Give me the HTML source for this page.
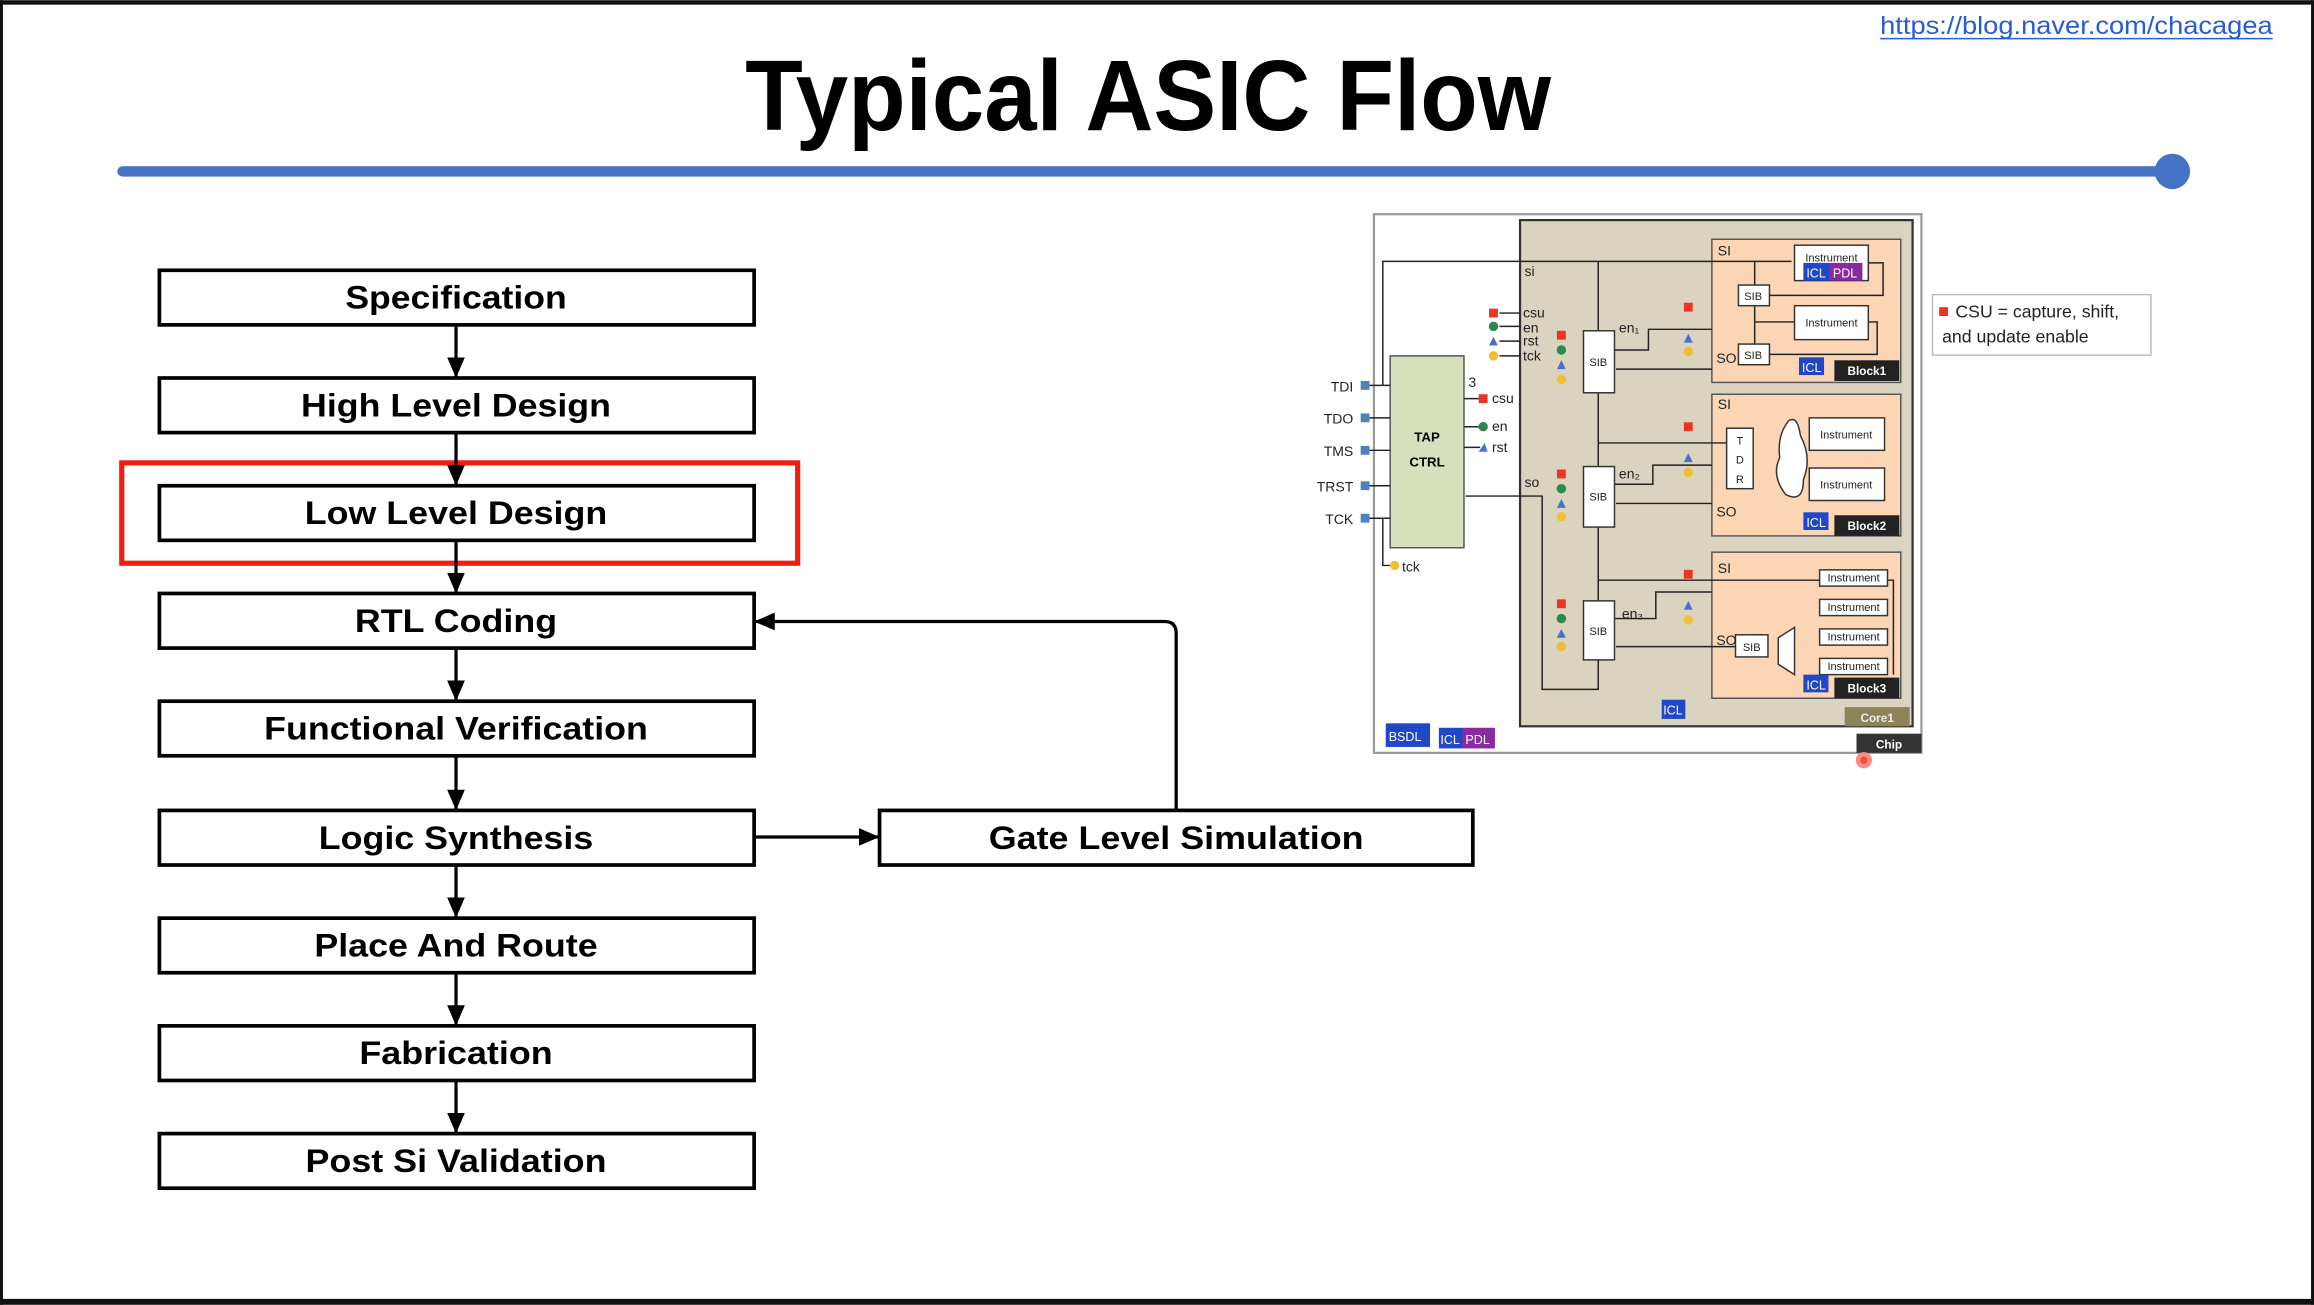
<!DOCTYPE html>
<html><head><meta charset="utf-8"><style>
html,body{margin:0;padding:0;background:#fff;}
svg{display:block;}
text{font-family:"Liberation Sans",sans-serif;}
</style></head><body>
<svg width="2314" height="1305" viewBox="0 0 1568 884" xmlns="http://www.w3.org/2000/svg">
<defs>
<marker id="ah" markerWidth="14" markerHeight="12" refX="13" refY="6" orient="auto" markerUnits="userSpaceOnUse">
<path d="M0,0 L14,6 L0,12 z" fill="#000"/></marker>
</defs>
<rect x="0" y="0" width="1568" height="884" fill="#fff"/>
<rect x="0" y="0" width="1568" height="3" fill="#111"/>
<rect x="0" y="880" width="1568" height="4" fill="#111"/>
<rect x="0" y="0" width="2" height="884" fill="#111"/>
<rect x="1566" y="0" width="2" height="884" fill="#111"/>

<text x="1407" y="23" font-size="17" fill="#2a5bd7" text-anchor="middle" textLength="266" lengthAdjust="spacingAndGlyphs">https://blog.naver.com/chacagea</text>
<line x1="1274" y1="26" x2="1540" y2="26" stroke="#2a5bd7" stroke-width="1"/>
<text x="778" y="88" font-size="68" font-weight="bold" text-anchor="middle" textLength="546" lengthAdjust="spacingAndGlyphs" fill="#000">Typical ASIC Flow</text>
<line x1="83" y1="116" x2="1470" y2="116" stroke="#4472c4" stroke-width="7" stroke-linecap="round"/>
<ellipse cx="1472" cy="116" rx="12" ry="12" fill="#4472c4"/>

<g stroke="#000" stroke-width="2.5" fill="#fff">
<rect x="108" y="183" width="403" height="37"/>
<rect x="108" y="256" width="403" height="37"/>
<rect x="108" y="329" width="403" height="37"/>
<rect x="108" y="402" width="403" height="37"/>
<rect x="108" y="475" width="403" height="37"/>
<rect x="108" y="549" width="403" height="37"/>
<rect x="108" y="622" width="403" height="37"/>
<rect x="108" y="695" width="403" height="37"/>
<rect x="108" y="768" width="403" height="37"/>
<rect x="596" y="549" width="402" height="37"/>
</g>
<rect x="82.5" y="313.5" width="458" height="68" fill="none" stroke="#f21d0e" stroke-width="3.5"/>
<g stroke="#000" stroke-width="2.2" fill="none" marker-end="url(#ah)">
<line x1="309" y1="220" x2="309" y2="255"/>
<line x1="309" y1="293" x2="309" y2="328"/>
<line x1="309" y1="366" x2="309" y2="401"/>
<line x1="309" y1="439" x2="309" y2="474"/>
<line x1="309" y1="512" x2="309" y2="548"/>
<line x1="309" y1="586" x2="309" y2="621"/>
<line x1="309" y1="659" x2="309" y2="694"/>
<line x1="309" y1="732" x2="309" y2="767"/>
<line x1="511" y1="567" x2="595" y2="567"/>
<path d="M797,549 L797,429 Q797,421 789,421 L512,421"/>
</g>
<g font-size="22" font-weight="bold" text-anchor="middle" fill="#000" lengthAdjust="spacingAndGlyphs">
<text x="309" y="209" textLength="150" lengthAdjust="spacingAndGlyphs">Specification</text>
<text x="309" y="282" textLength="210" lengthAdjust="spacingAndGlyphs">High Level Design</text>
<text x="309" y="355" textLength="205" lengthAdjust="spacingAndGlyphs">Low Level Design</text>
<text x="309" y="428" textLength="137" lengthAdjust="spacingAndGlyphs">RTL Coding</text>
<text x="309" y="501" textLength="260" lengthAdjust="spacingAndGlyphs">Functional Verification</text>
<text x="309" y="575" textLength="186" lengthAdjust="spacingAndGlyphs">Logic Synthesis</text>
<text x="309" y="648" textLength="192" lengthAdjust="spacingAndGlyphs">Place And Route</text>
<text x="309" y="721" textLength="131" lengthAdjust="spacingAndGlyphs">Fabrication</text>
<text x="309" y="794" textLength="204" lengthAdjust="spacingAndGlyphs">Post Si Validation</text>
<text x="797" y="575" textLength="254" lengthAdjust="spacingAndGlyphs">Gate Level Simulation</text>
</g>

<!-- IJTAG diagram -->
<rect x="931" y="145" width="371" height="365" fill="#fff" stroke="#999" stroke-width="1.5"/>
<rect x="1030" y="149" width="266" height="343" fill="#d9d3bf" stroke="#333" stroke-width="1.5"/>
<g stroke="#555" stroke-width="1" fill="#fcd5b5">
<rect x="1160" y="162" width="128" height="97"/>
<rect x="1160" y="267" width="128" height="96"/>
<rect x="1160" y="374" width="128" height="99"/>
</g>
<rect x="942" y="241" width="50" height="130" fill="#d7e0bd" stroke="#555" stroke-width="1"/>
<text x="967" y="299" font-size="9" font-weight="bold" text-anchor="middle">TAP</text>
<text x="967" y="316" font-size="9" font-weight="bold" text-anchor="middle">CTRL</text>
<g font-size="9.5" fill="#222" text-anchor="end">
<text x="917" y="265">TDI</text><text x="917" y="287">TDO</text><text x="917" y="309">TMS</text><text x="917" y="333">TRST</text><text x="917" y="355">TCK</text>
</g>
<g fill="#4f81bd"><rect x="922" y="258" width="6" height="6"/><rect x="922" y="280" width="6" height="6"/><rect x="922" y="302" width="6" height="6"/><rect x="922" y="326" width="6" height="6"/><rect x="922" y="348" width="6" height="6"/></g>
<g stroke="#222" stroke-width="1" fill="none">
<line x1="928" y1="261" x2="942" y2="261"/><line x1="928" y1="283" x2="942" y2="283"/><line x1="928" y1="305" x2="942" y2="305"/><line x1="928" y1="329" x2="942" y2="329"/><line x1="928" y1="351" x2="942" y2="351"/>
<polyline points="937,261 937,177 1214,177"/>
<polyline points="937,351 937,383 942,383"/>
<line x1="1083" y1="177" x2="1083" y2="224"/>
<line x1="1083" y1="266" x2="1083" y2="316"/>
<line x1="1083" y1="357" x2="1083" y2="407"/>
<polyline points="1083,300 1178,300 1178,290"/>
<polyline points="1083,393 1283,393 1283,457"/>
<polyline points="1083,447 1083,467 1045,467 1045,336 993,336"/>
<line x1="1160" y1="250" x2="1095" y2="250"/>
<line x1="1160" y1="341" x2="1095" y2="341"/>
<line x1="1176" y1="438" x2="1095" y2="438"/>
<polyline points="1094,237 1117,237 1117,223 1160,223"/>
<polyline points="1094,328 1120,328 1120,315 1160,315"/>
<polyline points="1094,419 1122,419 1122,401 1160,401"/>
<line x1="992" y1="270" x2="1003" y2="270"/><line x1="992" y1="289" x2="1003" y2="289"/><line x1="992" y1="303" x2="1003" y2="303"/>
<line x1="1016" y1="212" x2="1030" y2="212"/><line x1="1016" y1="221" x2="1030" y2="221"/><line x1="1016" y1="231" x2="1030" y2="231"/><line x1="1016" y1="241" x2="1030" y2="241"/>
<line x1="1189" y1="177" x2="1189" y2="193"/><line x1="1189" y1="207" x2="1189" y2="233"/>
<polyline points="1266,178 1276,178 1276,200 1199,200"/>
<polyline points="1266,218 1272,218 1272,240 1199,240"/>
<line x1="1189" y1="218" x2="1216" y2="218"/>
</g>
<g fill="#fff" stroke="#333" stroke-width="1">
<rect x="1073" y="224" width="21" height="42"/><rect x="1073" y="316" width="21" height="41"/><rect x="1073" y="407" width="21" height="40"/>
<rect x="1216" y="166" width="50" height="24"/><rect x="1178" y="193" width="21" height="14"/><rect x="1216" y="207" width="50" height="23"/><rect x="1178" y="233" width="21" height="14"/>
<rect x="1170" y="290" width="18" height="41"/><rect x="1226" y="283" width="51" height="22"/><rect x="1226" y="317" width="51" height="22"/>
<path d="M1212,285 q-8,10 -6,25 q-6,12 4,25 q12,6 12,-10 q6,-15 -2,-30 q-2,-14 -8,-10z"/>
<rect x="1233" y="386" width="46" height="11"/><rect x="1233" y="406" width="46" height="11"/><rect x="1233" y="426" width="46" height="11"/><rect x="1233" y="446" width="46" height="11"/>
<rect x="1176" y="430" width="22" height="15"/>
<path d="M1205,432 L1216,425 L1216,457 L1205,450 z"/>
</g>
<g font-size="7.5" fill="#222" text-anchor="middle">
<text x="1083" y="248">SIB</text><text x="1083" y="339">SIB</text><text x="1083" y="430">SIB</text>
<text x="1188" y="203">SIB</text><text x="1188" y="243">SIB</text><text x="1187" y="441">SIB</text>
<text x="1241" y="177">Instrument</text><text x="1241" y="221">Instrument</text>
<text x="1251" y="297">Instrument</text><text x="1251" y="331">Instrument</text>
<text x="1256" y="394">Instrument</text><text x="1256" y="414">Instrument</text><text x="1256" y="434">Instrument</text><text x="1256" y="454">Instrument</text>
<text x="1179" y="301">T</text><text x="1179" y="314">D</text><text x="1179" y="327">R</text>
</g>
<g font-size="9.5" fill="#222">
<text x="1164" y="173">SI</text><text x="1163" y="246">SO</text><text x="1164" y="277">SI</text><text x="1163" y="350">SO</text><text x="1164" y="388">SI</text><text x="1163" y="437">SO</text>
<text x="1033" y="187">si</text><text x="1033" y="330">so</text>
<text x="1097" y="225">en₁</text><text x="1097" y="324">en₂</text><text x="1099" y="419">en₃</text>
<text x="1032" y="215">csu</text><text x="1032" y="225">en</text><text x="1032" y="234">rst</text><text x="1032" y="244">tck</text>
<text x="995" y="262">3</text><text x="1011" y="273">csu</text><text x="1011" y="292">en</text><text x="1011" y="306">rst</text><text x="950" y="387">tck</text>
</g>
<g>
<rect x="1009" y="209" width="6" height="6" fill="#e32"/><circle cx="1012" cy="221" r="3.2" fill="#2a8a4a"/><path d="M1009,234 l3,-6 l3,6z" fill="#4a6fd0"/><circle cx="1012" cy="241" r="3.2" fill="#f0c030"/>
<rect x="1002" y="267" width="6" height="6" fill="#e32"/><circle cx="1005" cy="289" r="3.2" fill="#2a8a4a"/><path d="M1002,306 l4,-6 l2,6z" fill="#4a6fd0"/><circle cx="945" cy="383" r="3.2" fill="#f0c030"/>
</g>
<g>
<rect x="1055" y="224" width="6" height="6" fill="#e32"/><circle cx="1058" cy="237" r="3.2" fill="#2a8a4a"/><path d="M1055,250 l3,-6 l3,6z" fill="#4a6fd0"/><circle cx="1058" cy="257" r="3.2" fill="#f0c030"/>
<rect x="1055" y="318" width="6" height="6" fill="#e32"/><circle cx="1058" cy="331" r="3.2" fill="#2a8a4a"/><path d="M1055,344 l3,-6 l3,6z" fill="#4a6fd0"/><circle cx="1058" cy="350" r="3.2" fill="#f0c030"/>
<rect x="1055" y="406" width="6" height="6" fill="#e32"/><circle cx="1058" cy="419" r="3.2" fill="#2a8a4a"/><path d="M1055,432 l3,-6 l3,6z" fill="#4a6fd0"/><circle cx="1058" cy="438" r="3.2" fill="#f0c030"/>
<rect x="1141" y="205" width="6" height="6" fill="#e32"/><path d="M1141,232 l3,-6 l3,6z" fill="#4a6fd0"/><circle cx="1144" cy="238" r="3.2" fill="#f0c030"/>
<rect x="1141" y="286" width="6" height="6" fill="#e32"/><path d="M1141,313 l3,-6 l3,6z" fill="#4a6fd0"/><circle cx="1144" cy="320" r="3.2" fill="#f0c030"/>
<rect x="1141" y="386" width="6" height="6" fill="#e32"/><path d="M1141,413 l3,-6 l3,6z" fill="#4a6fd0"/><circle cx="1144" cy="420" r="3.2" fill="#f0c030"/>
</g>
<g font-size="8" font-weight="bold" fill="#fff" text-anchor="middle">
<rect x="1243" y="244" width="44" height="14" fill="#222"/><text x="1265" y="254">Block1</text>
<rect x="1243" y="349" width="44" height="14" fill="#222"/><text x="1265" y="359">Block2</text>
<rect x="1243" y="459" width="44" height="14" fill="#222"/><text x="1265" y="469">Block3</text>
<rect x="1250" y="479" width="44" height="13" fill="#8c8358"/><text x="1272" y="489" fill="#eee">Core1</text>
<rect x="1258" y="497" width="44" height="13" fill="#333"/><text x="1280" y="507">Chip</text>
</g>
<g font-size="8.5" fill="#fff">
<rect x="1222" y="178" width="18" height="12" fill="#1f47c8"/><text x="1224" y="188">ICL</text>
<rect x="1240" y="178" width="22" height="12" fill="#8a2aa0"/><text x="1242" y="188">PDL</text>
<rect x="1219" y="242" width="17" height="12" fill="#1f47c8"/><text x="1221" y="252">ICL</text>
<rect x="1222" y="347" width="17" height="12" fill="#1f47c8"/><text x="1224" y="357">ICL</text>
<rect x="1222" y="457" width="17" height="12" fill="#1f47c8"/><text x="1224" y="467">ICL</text>
<rect x="1126" y="474" width="16" height="13" fill="#1f47c8"/><text x="1127" y="484">ICL</text>
<rect x="939" y="490" width="30" height="16" fill="#1f47c8"/><text x="941" y="502">BSDL</text>
<rect x="975" y="493" width="16" height="14" fill="#1f47c8"/><text x="976" y="504">ICL</text>
<rect x="991" y="493" width="22" height="14" fill="#8a2aa0"/><text x="993" y="504">PDL</text>
</g>
<circle cx="1263" cy="515" r="4" fill="#e52" stroke="#f88" stroke-width="3"/>
<rect x="1309.5" y="199.5" width="148" height="41" fill="#fff" stroke="#bbb" stroke-width="1"/>
<rect x="1314" y="208" width="6" height="6" fill="#e32"/>
<text x="1325" y="215" font-size="12" fill="#222">CSU = capture, shift,</text>
<text x="1316" y="232" font-size="12" fill="#222">and update enable</text>
</svg>
</body></html>
